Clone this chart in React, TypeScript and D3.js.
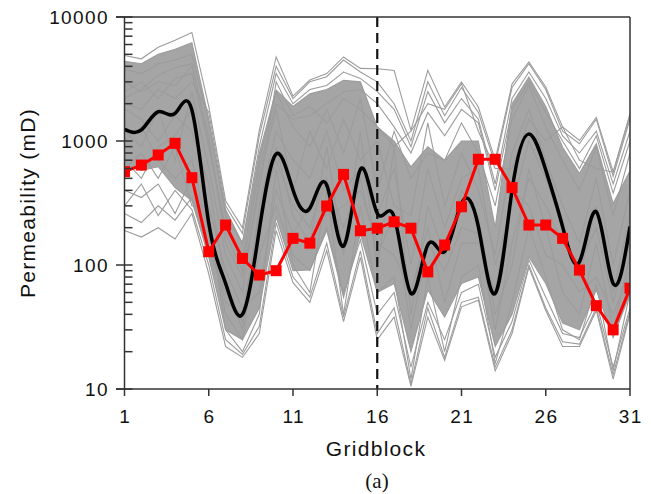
import React from "react";
import * as d3 from "d3";

const gridblocks = [1,2,3,4,5,6,7,8,9,10,11,12,13,14,15,16,17,18,19,20,21,22,23,24,25,26,27,28,29,30,31];
const xTicks = [1, 6, 11, 16, 21, 26, 31];
const yTicks = [10, 100, 1000, 10000];
const splitGridblock = 16;

// reference (true) permeability, red squares
const trueValues = [566, 640, 771, 958, 506, 128, 210, 113, 83, 90, 164, 150, 299, 538, 189, 198, 223, 198, 88, 145, 295, 712, 712, 421, 210, 210, 164, 91, 47, 30, 65];
// ensemble mean, black curve
const meanValues = [1242, 1230, 1722, 1670, 1780, 218, 71, 40, 192, 785, 403, 287, 442, 142, 591, 261, 245, 59, 145, 128, 314, 204, 59, 400, 1138, 584, 204, 106, 269, 71, 204];

// ensemble envelopes read per gridblock
const ensembleMax = [4900, 4600, 5700, 6500, 7500, 1900, 330, 200, 1220, 4760, 2300, 3100, 3500, 4760, 3850, 3830, 3700, 1220, 3715, 1880, 2990, 1880, 700, 2890, 4340, 2725, 1300, 1010, 1550, 562, 1660];
const ensembleHigh = [4400, 4200, 5000, 5500, 6200, 1500, 280, 150, 800, 2570, 1900, 2400, 2600, 3090, 3000, 1300, 1000, 620, 900, 700, 1000, 1000, 200, 2000, 3280, 1900, 890, 546, 950, 313, 575];
const ensembleLow = [640, 580, 620, 420, 330, 116, 30, 25, 45, 244, 90, 91, 190, 55, 178, 60, 71, 20, 63, 38, 71, 80, 22, 40, 116, 71, 34, 30, 63, 26, 59];
const ensembleMin = [190, 168, 200, 162, 260, 85, 22, 18, 28, 190, 72, 50, 131, 35, 115, 25, 38, 10.5, 38, 17, 46, 52, 14, 28, 96, 43, 22, 22, 43, 12, 40];

// individual realisations in the sparse parts of the ensemble
const member1 = [3800, 3500, 4200, 4500, 5000, 1400, 250, 150, 900, 3500, 2000, 2600, 2800, 3600, 3200, 2500, 1800, 900, 2500, 1400, 2200, 1500, 450, 2200, 3600, 2200, 1100, 800, 1200, 450, 1200];
const member2 = [260, 220, 300, 230, 350, 130, 60, 35, 120, 300, 120, 90, 200, 60, 160, 40, 60, 15, 50, 25, 60, 70, 18, 35, 110, 55, 28, 26, 50, 15, 45];
const member3 = [1200, 900, 1800, 700, 2500, 600, 120, 60, 500, 1800, 400, 1200, 600, 1500, 700, 1000, 300, 250, 1400, 300, 800, 400, 120, 800, 1800, 700, 300, 150, 500, 100, 400];
const member4 = [400, 350, 450, 260, 500, 200, 40, 25, 200, 900, 250, 150, 900, 120, 1200, 90, 900, 40, 300, 120, 400, 250, 40, 100, 600, 200, 60, 40, 150, 30, 120];
const member5 = [2500, 3000, 2200, 3200, 3500, 900, 200, 110, 700, 2500, 1300, 900, 1800, 800, 2200, 400, 1200, 500, 800, 700, 1400, 800, 300, 1500, 2800, 1300, 700, 400, 900, 250, 800];
const member6 = [3000, 2500, 3000, 2800, 4000, 1100, 150, 80, 400, 3000, 1600, 1900, 1400, 2200, 1800, 1300, 900, 1200, 2000, 1800, 2900, 1200, 600, 600, 1500, 1000, 1300, 700, 600, 560, 1600];
const member7 = [600, 800, 500, 900, 300, 300, 90, 45, 60, 400, 180, 300, 250, 300, 400, 150, 120, 60, 200, 50, 150, 150, 60, 400, 300, 120, 100, 60, 80, 40, 90];
const member8 = [1800, 1500, 1000, 1600, 1200, 450, 70, 30, 300, 1200, 700, 500, 1200, 400, 600, 250, 600, 100, 600, 200, 500, 600, 100, 300, 1000, 500, 200, 80, 300, 60, 250];
const member9 = [700, 500, 900, 1100, 1800, 250, 30, 20, 40, 600, 100, 60, 400, 40, 300, 60, 80, 12, 80, 20, 80, 100, 16, 50, 200, 80, 30, 25, 70, 14, 60];
const member10 = [2000, 1800, 2600, 2200, 3000, 1700, 300, 180, 1100, 4000, 2200, 3000, 3300, 4500, 3600, 3000, 2000, 1000, 3000, 1600, 2700, 1700, 650, 2700, 4200, 2600, 1200, 950, 1500, 520, 1500];
const member11 = [300, 450, 250, 400, 280, 100, 25, 19, 32, 220, 80, 55, 150, 38, 130, 28, 45, 11, 45, 18, 50, 55, 15, 30, 100, 45, 24, 23, 45, 13, 42];
const member12 = [1000, 1300, 700, 500, 700, 180, 50, 40, 250, 700, 300, 200, 500, 200, 500, 120, 250, 30, 150, 90, 200, 180, 30, 150, 500, 300, 150, 100, 200, 50, 180];
const member13 = [2200, 2600, 3400, 3900, 4200, 1000, 180, 90, 600, 2000, 1500, 1600, 2000, 2500, 2600, 2000, 1300, 800, 1700, 1100, 1800, 1400, 400, 1800, 3000, 1700, 1000, 600, 1100, 380, 1000];

const members = [ensembleMax, ensembleHigh, ensembleLow, ensembleMin, member1, member2, member3, member4, member5, member6, member7, member8, member9, member10, member11, member12, member13];

const W = 651;
const H = 494;
const left = 124.5;
const right = 630;
const top = 17;
const bottom = 389;
const sans = "'Liberation Sans', Arial, Helvetica, sans-serif";

export default function App() {
  const x = d3.scaleLinear().domain([1, 31]).range([left, right]);
  const y = d3.scaleLog().domain([10, 10000]).range([bottom, top]);

  const straight = d3.line<number>().x((_, i) => x(gridblocks[i])).y((v) => y(v));
  const smooth = d3.line<number>().x((_, i) => x(gridblocks[i])).y((v) => y(v)).curve(d3.curveNatural);
  const band = d3.area<number>()
    .x((_, i) => x(gridblocks[i]))
    .y0((_, i) => y(ensembleLow[i]))
    .y1((v) => y(v));

  const minorTicks = y.ticks().filter((t) => !yTicks.includes(t));

  return (
    <svg width={W} height={H} style={{ position: "absolute", left: 0, top: 0, background: "#fff" }}>
      <defs>
        <clipPath id="plot">
          <rect x={left} y={top} width={right - left} height={bottom - top} />
        </clipPath>
      </defs>
      <g clipPath="url(#plot)">
        <path d={band(ensembleHigh) || ""} fill="#a5a5a5" stroke="none" />
        {members.map((m, k) => (
          <path key={k} d={straight(m) || ""} fill="none" stroke="#9c9c9c" strokeWidth={1.1} strokeLinejoin="miter" />
        ))}
        <line x1={x(splitGridblock)} x2={x(splitGridblock)} y1={top} y2={bottom} stroke="#111" strokeWidth={2.2} strokeDasharray="10,6" />
        <path d={smooth(meanValues) || ""} fill="none" stroke="#000" strokeWidth={3.5} />
        <path d={straight(trueValues) || ""} fill="none" stroke="#ff0000" strokeWidth={3} />
        {trueValues.map((v, i) => (
          <rect key={i} x={x(gridblocks[i]) - 5.5} y={y(v) - 5.5} width={11} height={11} fill="#ff0000" />
        ))}
      </g>
      {/* frame */}
      <g stroke="#333" strokeWidth={1.5} fill="none">
        <line x1={116} x2={right} y1={top} y2={top} />
        <line x1={right} x2={right} y1={top} y2={bottom} />
        <line x1={left} x2={left} y1={top} y2={bottom} />
        <line x1={116} x2={right} y1={bottom} y2={bottom} />
        {yTicks.map((t) => (
          <line key={t} x1={116} x2={132.5} y1={y(t)} y2={y(t)} />
        ))}
        {minorTicks.map((t) => (
          <line key={t} x1={left} x2={132.5} y1={y(t)} y2={y(t)} />
        ))}
        {xTicks.map((t) => (
          <line key={t} x1={x(t)} x2={x(t)} y1={bottom} y2={bottom + 7} />
        ))}
      </g>
      <g fontFamily={sans} fontSize={19} fill="#111" letterSpacing={1.4}>
        {yTicks.map((t) => (
          <text key={t} x={109} y={y(t) + 7} textAnchor="end">{String(t)}</text>
        ))}
        {xTicks.map((t) => (
          <text key={t} x={x(t) + 0.7} y={423} textAnchor="middle">{String(t)}</text>
        ))}
      </g>
      <text x={376} y={456} textAnchor="middle" fontFamily={sans} fontSize={21} letterSpacing={1.3} fill="#111">Gridblock</text>
      <text transform="translate(35,203) rotate(-90)" textAnchor="middle" fontFamily={sans} fontSize={21} letterSpacing={1.3} fill="#111">Permeability (mD)</text>
      <text x={377} y={488} textAnchor="middle" fontFamily="'Liberation Serif', 'Times New Roman', serif" fontSize={21} fill="#111">(a)</text>
    </svg>
  );
}
